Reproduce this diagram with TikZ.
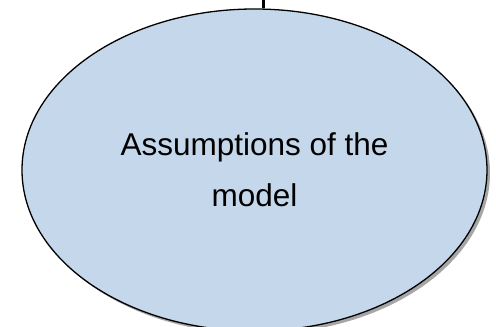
\documentclass[tikz,border=0pt]{standalone}
\usepackage{fontspec}
\setmainfont{Liberation Sans}
\usepackage{xcolor}
\definecolor{ovalblue}{RGB}{197,215,234}
\usetikzlibrary{positioning, shapes.geometric, shadows}

\begin{document}
\begin{tikzpicture}[
    x=1pt, y=1pt,
    bubble/.style={ellipse, draw=black, line width=1.3pt, fill=ovalblue,
                   minimum width=465pt, minimum height=322pt, inner sep=0pt,
                   align=center, font=\fontsize{31.5}{51}\selectfont,
                   drop shadow={shadow xshift=3pt, shadow yshift=-3pt, opacity=0.35, fill=black}},
    link/.style={line width=3pt, black},
  ]
    % --- Frame ---
    \useasboundingbox (0,0) rectangle (496,327);

    % --- Oval ---
    \node[bubble] (assume) at (254.5,157) {Assumptions of the\\model};

    % --- Link from above ---
    \coordinate (top) at (263,327);
    \draw[link] (top) -- (top |- assume.north);
  \end{tikzpicture}
\end{document}
